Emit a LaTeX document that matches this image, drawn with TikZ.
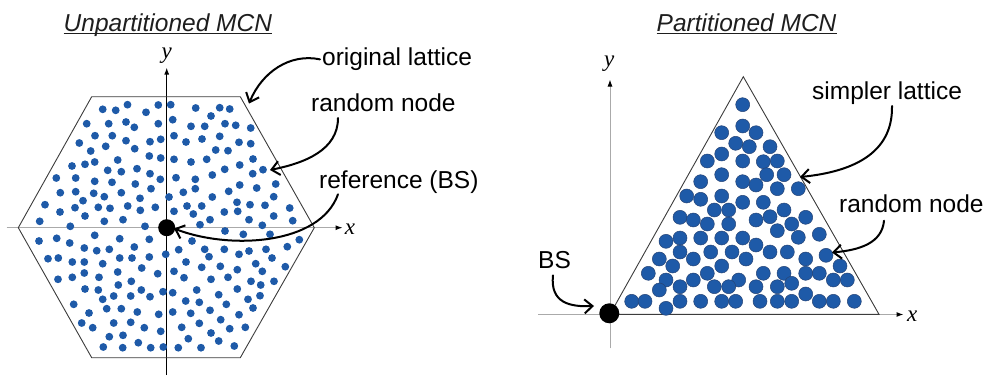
\documentclass[tikz,border=0pt]{standalone}
\usepackage{fontspec}
\setmainfont{Liberation Sans}
\newfontfamily\axfont{Liberation Serif}
\usetikzlibrary{arrows.meta,calc}
\definecolor{dotblue}{RGB}{30,90,168}
\definecolor{dotedge}{RGB}{38,68,118}
\definecolor{axgray}{RGB}{170,170,170}
\definecolor{edgegray}{RGB}{60,60,60}
\definecolor{titlegray}{RGB}{30,30,30}
\tikzset{
  lbl/.style={font=\fontsize{24.5}{29}\selectfont, inner sep=0pt, anchor=base west, text=black},
  ttl/.style={font=\fontsize{24.5}{29}\selectfont\itshape, inner sep=0pt, anchor=base west, text=titlegray},
  axlbl/.style={font=\axfont\itshape\fontsize{23}{26}\selectfont, inner sep=0pt},
  pointer/.style={line width=2pt, line cap=round, -{Straight Barb[length=8pt,width=14pt]}},
  axisline/.style={line width=1pt, axgray, -{Latex[length=7pt,width=5pt,color=black]}},
  axisdark/.style={line width=1.2pt, black, -{Latex[length=7pt,width=5pt]}},
  outline/.style={draw=edgegray, line width=0.9pt, line join=miter},
  sdot/.style={fill=dotblue},
  bdot/.style={fill=dotblue, draw=dotedge, line width=0.5pt},
  bsdot/.style={fill=black},
  uline/.style={line width=1.3pt, titlegray}
}
\begin{document}
\begin{tikzpicture}[x=1pt,y=-1pt]
\useasboundingbox (0,0) rectangle (985,375);

% ---------------- left panel ----------------
\coordinate (lxs) at (6.5,227.7);
\coordinate (lxe) at (342.5,227.7);
\coordinate (lys) at (166.7,375);
\coordinate (lye) at (166.7,67.5);
\draw[axisline] (lxs) -- (lxe);
\draw[axisdark] (lys) -- (lye);
\node[axlbl] (lx) at (350,229) {x};
\node[axlbl] (ly) at (166.7,56) {y};

\draw[outline] (18.3,227.7) -- (91.7,96.7) -- (240.3,96.7) -- (314.3,227.7) -- (240.3,357.7) -- (91.7,357.7) -- cycle;

\foreach \p in {(102.7,109.3),(115.7,110.3),(127.5,104.7),(146,112.3),(158.3,105),(170.7,104.7),
(86.7,123.7),(108.7,123.7),(126,122),(134.3,127.3),(158.3,123.7),
(95,135.7),(112.3,135.7),(79.3,143),(126,140.7),(150,141.7),(160.7,139.3),(105.7,146.3),(134.7,148.7),(90.7,151),
(149.3,156),(160.7,158),(117.7,160),(72,166),(85,164.3),(94.7,162),(107.7,170.3),(121.3,171.7),(137,168.7),(150,173.7),(160.3,179.3),(56.3,178),(75.7,178),(94.7,181.3),(112,182.3),(135.3,184),
(151,188.7),(60.3,192.7),(75.7,191.7),(93.7,193.3),(104.3,196.7),(121.3,192.7),(140,198.3),(83,200.7),(45,204.7),(75,207.7),(98.3,207.3),(110,208.3),(127.7,206),(140.3,210.3),(155.3,207.3),(169,197),
(60,212),(85,216),(39.7,221.3),(70.3,226.3),(104.3,221.3),(123,219.7),(145,226.3),
(195.7,108),(219.7,107.7),(229.7,109),(211,116),(172.7,119.7),(191,126.3),(204.7,126.3),(225,123.7),(235.7,125.3),(250.7,128),
(174,135.7),(186,142),(202,139),(219.7,136.3),(239,142.3),(250.7,143.7),(215.7,150),(228,150.7),
(174,159.3),(191,162),(206.7,159.3),(239.7,165),(253,159),(224.7,169.3),(252.7,173.7),(263,169.7),(212.3,175),
(176,177.7),(195.3,179.3),(195.3,188.7),(183.3,192.3),(228.7,191.3),(239.7,185),(256.7,188),(275.7,184),(212.3,197),(273.7,196.7),
(187,206),(201.7,206),(237,202.3),(250,204.7),(265,205.3),(174,211.3),(193.3,214),(224.3,212),(237.7,211.3),(210,219.7),(200,224.7),(249,219.7),(273.7,216),(289.7,208),(292.7,220.7),
(39,241),(56.7,238.3),(69.7,243),(94.7,235.3),(84.3,248),(96.7,250.7),(109.3,249.3),(119.7,238.7),(134.3,247),(149.3,239.3),(165.7,254.3),
(48,258.7),(58.3,258),(72.3,262),(84.3,262),(102.7,263.7),(119.7,258),(132,258),(149.3,257),(141.7,268),
(58,279.3),(72.3,277.3),(84.3,273),(99,277.3),(117.7,272),(131.3,281.3),(157.7,273.7),
(85,289),(98.3,290),(118.3,285),(141.3,290),(102.7,299.3),(113.7,296),(130.7,296),(150,296.7),(163,291.7),
(73.7,304.3),(106.7,308.7),(121.3,308.7),(137.3,312),(158.7,314.3),(89,313),
(81.7,323),(92.7,327.7),(113.7,323),(130.7,322.3),(144.3,327.7),(160.7,331.3),(109.3,336.7),(123,335.3),
(103.3,347),(122.7,347.7),(138.3,342.7),(150.7,347.7),(163.3,347),
(225,231),(243.3,234.3),(262.3,225.3),(270,234.3),(299.3,239.7),(192,241),(178.7,249.7),(204.7,249.3),(209,256.7),(224.3,249.3),(239,254.3),(249,251),(266,249.3),(272,258),(287.3,246.7),
(186,262),(201.7,267.3),(220.3,266.3),(237.3,269.7),(255.7,263.7),(262.3,271.3),(285.3,266.7),
(174,271.3),(184,277.7),(211,279.3),(228,277.3),(251,281.3),(260.7,285),(274,281.3),
(172.7,292.7),(196.7,290),(218.7,294.7),(237.3,289),(260,295.7),(185.7,301),(199.3,302.3),(226.3,304.3),(248,299.3),(253,308),
(172.7,312),(190.7,313.3),(210,310.3),(239,314.7),(220.7,319.7),(181.7,327.3),(199.3,323.3),(229.7,328.7),(245.3,327.3),(211,333),(188.3,338.7),(218.7,341),(178.3,347.7),(201,347.7),(234.3,346)}
  \fill[sdot] \p circle[radius=3.9pt];

\fill[bsdot] (166.7,227.7) circle[radius=8.5pt];
\coordinate (bsl) at (174,228.5);

\node[ttl] (t1) at (63.5,31.5) {Unpartitioned MCN};
\draw[uline] ($(t1.base west)+(0,2.3)$) -- ($(t1.base east)+(0,2.3)$);

\node[lbl] (ol) at (322,65.7) {original lattice};
\node[lbl] (rn1) at (311,111.5) {random node};
\node[lbl] (ref) at (319,188.3) {reference (BS)};

\coordinate (olt) at (249,103.5);
\coordinate (rn1t) at (270,170);
\draw[pointer] ([xshift=-2pt]ol.west) .. controls (290,53) and (262,72) .. (olt);
\draw[pointer] ($(rn1.base west)+(27,6.5)$) .. controls (338,150) and (305,163) .. (rn1t);
\draw[pointer] ($(ref.base west)+(19,6)$) .. controls (320,245) and (230,250) .. (bsl);

% ---------------- right panel ----------------
\coordinate (rxs) at (538.3,314.5);
\coordinate (rxe) at (903.5,314.5);
\coordinate (rys) at (610,348.3);
\coordinate (rye) at (610,79.5);
\draw[axisline] (rxs) -- (rxe);
\draw[axisline] (rys) -- (rye);
\node[axlbl] (rx) at (912.3,316) {x};
\node[axlbl] (ry) at (609.3,64) {y};

\draw[outline] (610,314.3) -- (743.3,76.7) -- (879,314.3) -- cycle;

\foreach \p in {(742.7,104.7),(742.7,126),(756,132.7),(721.7,132.7),(735.7,143.3),(749.3,146.7),(770,146.7),
(721.7,154),(707.3,161),(742.7,161),(763.3,161.7),(777.3,161),(721.7,174.7),(766.7,174.7),(784,174.7),
(700.7,181.7),(742.7,181.7),(756,185),(777.3,188.7),(798.3,188.7),(686.7,196),(700.7,199.3),(721.7,196),
(742.7,202.3),(763.3,202.3),(714.3,210),(728.7,210),(784,210),(680,217.3),(693.3,220),(707.3,224),(728.7,224),
(756,220),(770,216.7),(791.7,224),(805.7,217.3),(777.3,230.7),(798.3,237.3),(819.3,234.3),
(666,241.3),(680,238),(700.7,238),(721.7,238),(742.7,238),(756,245),(680,252),(710.7,252),(732,252),(770,252),(787.3,252),
(659.3,259),(693.3,259),(746,259),(805.7,259),(826,255.3),(672.7,266),(721.7,266),(840,266),
(648.3,273.3),(707.3,273.3),(763.3,273.3),(784,273.3),(805.7,273.3),(819.3,273.3),
(666,280),(693.3,280),(738.7,280),(791.7,283.3),(833.3,280),(847.3,280),
(659.3,290),(680,286.7),(714.3,286.7),(728.7,286.7),(756,286.7),(777.3,286.7),(805.7,294),
(631.7,301.3),(645,301.3),(680,301.3),(700.7,301.3),(721.7,301.3),(735.7,301.3),(760,301.3),(777.3,301.3),(791.7,301.3),(819.3,301.3),(833.3,301.3),(854.3,301.3),
(666,308.3)}
  \filldraw[bdot] \p circle[radius=7pt];

\fill[bsdot] (609.3,313.3) circle[radius=10pt];
\coordinate (bsr) at (594,306);

\node[ttl] (t2) at (656.5,31.5) {Partitioned MCN};
\draw[uline] ($(t2.base west)+(0,2.3)$) -- ($(t2.base east)+(0,2.3)$);

\node[lbl] (sl) at (812,99) {simpler lattice};
\node[lbl] (rn2) at (839,212.7) {random node};
\node[lbl] (bs) at (538,268.3) {BS};

\coordinate (slt) at (800,177);
\coordinate (rn2t) at (832,252.5);
\draw[pointer] ($(sl.base west)+(80,7)$) .. controls (893,155) and (850,172) .. (slt);
\draw[pointer] ($(rn2.base west)+(45,8)$) .. controls (882,243) and (860,250) .. (rn2t);
\draw[pointer] ($(bs.base west)+(15,7)$) .. controls (550,303) and (570,307) .. (bsr);
\end{tikzpicture}
\end{document}
